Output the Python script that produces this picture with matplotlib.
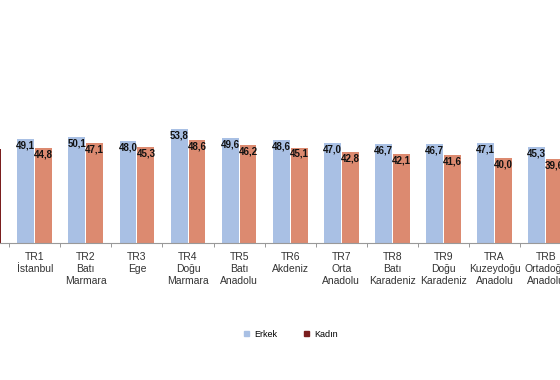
import numpy as np
import matplotlib
matplotlib.use("Agg")
import matplotlib.pyplot as plt
from matplotlib.patches import Patch

plt.rcParams['font.family'] = ['Liberation Sans Narrow', 'Liberation Sans', 'DejaVu Sans']

# regions (Türkiye first, only a sliver of it shows at the left edge)
regions = ["Türkiye", "TR1\nİstanbul", "TR2\nBatı\nMarmara", "TR3\nEge",
           "TR4\nDoğu\nMarmara", "TR5\nBatı\nAnadolu", "TR6\nAkdeniz",
           "TR7\nOrta\nAnadolu", "TR8\nBatı\nKaradeniz", "TR9\nDoğu\nKaradeniz",
           "TRA\nKuzeydoğu\nAnadolu", "TRB\nOrtadoğu\nAnadolu"]
erkek = [48.7, 49.1, 50.1, 48.0, 53.8, 49.6, 48.6, 47.0, 46.7, 46.7, 47.1, 45.3]
kadin = [44.5, 44.8, 47.1, 45.3, 48.6, 46.2, 45.1, 42.8, 42.1, 41.6, 40.0, 39.6]

c_erkek = "#a9c0e4"
c_kadin = "#dc8a70"
c_erkek_tr = "#2b4a7e"
c_kadin_tr = "#7a1e1e"

fig = plt.figure(figsize=(5.6, 3.8), dpi=100)
ax = fig.add_axes([0.0, 0.36, 1.0, 0.335])

x = np.arange(len(regions)) - 1  # TR1 at 0
w = 0.33
off = 0.175

col_e = [c_erkek_tr] + [c_erkek] * (len(regions) - 1)
col_k = [c_kadin_tr] + [c_kadin] * (len(regions) - 1)
ax.bar(x - off, erkek, w, color=col_e, zorder=2)
ax.bar(x + off, kadin, w, color=col_k, zorder=2)

# value labels, only for the visible regions
for xi, e, k in zip(x[1:], erkek[1:], kadin[1:]):
    ax.text(xi - off, e - 0.6, ("%.1f" % e).replace(".", ","), ha="center", va="top",
            fontsize=7, fontweight="bold", color="#111111", zorder=3)
    ax.text(xi + off, k - 0.6, ("%.1f" % k).replace(".", ","), ha="center", va="top",
            fontsize=7, fontweight="bold", color="#111111", zorder=3)

ax.set_xlim(-0.68, 10.28)
ax.set_ylim(0, 60)

ax.set_xticks(x[1:])
ax.set_xticklabels(regions[1:], fontsize=7.5, color="#333333", linespacing=1.25)
ax.tick_params(axis="x", which="major", length=0, pad=6)
ax.set_xticks(np.arange(-0.5, 10.5, 1.0), minor=True)
ax.tick_params(axis="x", which="minor", length=3, color="#888888", direction="out")

ax.set_yticks([])
for s in ["top", "right", "left"]:
    ax.spines[s].set_visible(False)
ax.spines["bottom"].set_color("#999999")
ax.set_facecolor("none")

handles = [Patch(color=c_erkek, label="Erkek"), Patch(color=c_kadin_tr, label="Kadın")]
fig.legend(handles=handles, loc="center", bbox_to_anchor=(0.52, 0.12), ncol=2,
           frameon=False, fontsize=6.5, handlelength=0.5, handleheight=0.5,
           columnspacing=3.0, handletextpad=0.6)

fig.savefig("out.png", dpi=100)
